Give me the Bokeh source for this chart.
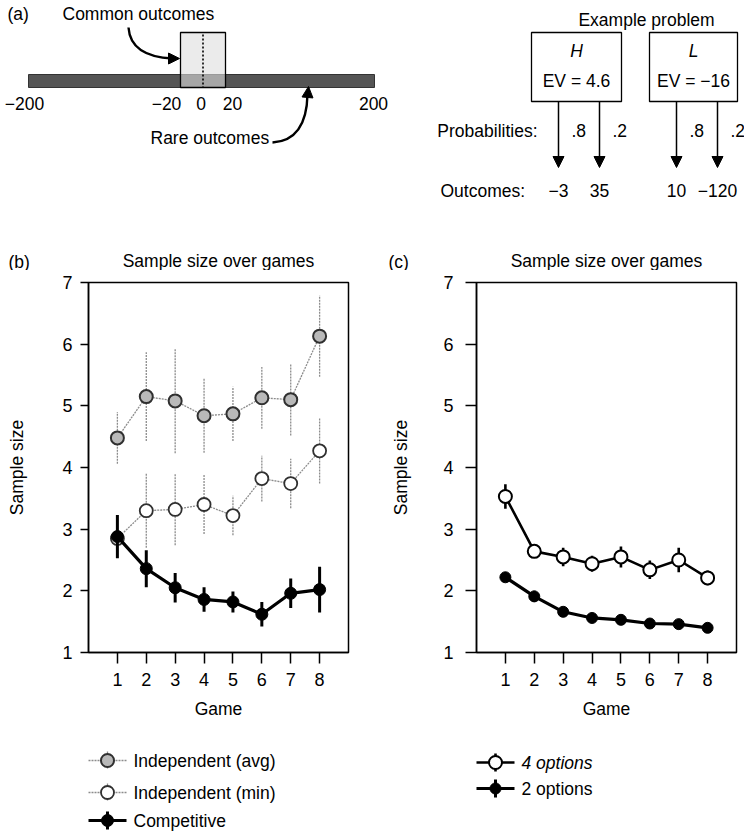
from bokeh.plotting import figure
from bokeh.models import Range1d, Arrow, NormalHead, FixedTicker, ColumnDataSource
from bokeh.layouts import column, row
from bokeh.core.properties import value
from bokeh.embed import file_html
from bokeh.resources import INLINE

FONT = "Liberation Sans"
FS = "17.5px"

# ---------------- data: panel (a) ----------------
outcome_range = [-200, 200]
range_labels = ["\u2212200", "200"]
common_range = [-20, 20]
common_values = [-20, 0, 20]
common_labels = ["\u221220", "0", "20"]
options = ["H", "L"]
option_ev = ["EV = 4.6", "EV = \u221216"]
option_probs = [[".8", ".2"], [".8", ".2"]]
option_outcomes = [["\u22123", "35"], ["10", "\u2212120"]]

# ---------------- data: panels (b), (c) ----------------
games = [1, 2, 3, 4, 5, 6, 7, 8]
y_ticks = [1, 2, 3, 4, 5, 6, 7]
indep_avg = [4.48, 5.15, 5.08, 4.84, 4.87, 5.13, 5.10, 6.13]
indep_avg_err = [0.42, 0.72, 0.85, 0.60, 0.44, 0.50, 0.58, 0.66]
indep_min = [2.85, 3.30, 3.32, 3.40, 3.22, 3.82, 3.74, 4.27]
indep_min_err = [0.25, 0.60, 0.58, 0.48, 0.32, 0.37, 0.40, 0.53]
competitive = [2.88, 2.36, 2.05, 1.86, 1.82, 1.62, 1.96, 2.02]
competitive_err = [0.35, 0.30, 0.24, 0.20, 0.17, 0.20, 0.24, 0.37]
opt4 = [3.53, 2.64, 2.55, 2.44, 2.55, 2.34, 2.50, 2.21]
opt4_err = [0.20, 0.10, 0.15, 0.13, 0.17, 0.15, 0.20, 0.12]
opt2 = [2.22, 1.91, 1.66, 1.56, 1.53, 1.47, 1.46, 1.40]
opt2_err = [0.07, 0.09, 0.05, 0.04, 0.04, 0.04, 0.04, 0.04]
legend_b = ["Independent (avg)", "Independent (min)", "Competitive"]
legend_c = ["4 options", "2 options"]


def blank(width, height):
    f = figure(width=width, height=height, x_range=Range1d(0, width), y_range=Range1d(height, 0),
               output_backend="svg", toolbar_location=None, x_axis_type=None, y_axis_type=None,
               min_border=0)
    f.outline_line_color = None
    return f


def txt(fig, xs, ys, texts, align="center", size=FS, style="normal", x_offset=None):
    if x_offset is None:
        x_offset = [0] * len(xs)
    src = ColumnDataSource(dict(x=xs, y=ys, t=texts, xo=x_offset))
    fig.text(x="x", y="y", text="t", source=src, text_align=align, text_baseline="middle",
             text_font=value(FONT), text_font_size=size, text_font_style=style,
             text_color="black", x_offset="xo")


# ---------------- panel (a): schematic ----------------
pa = blank(744, 205)

BAR_L, BAR_R, BAR_T, BAR_B = 28, 374, 74, 87
BOX_L, BOX_R, BOX_T = 180, 225, 32


def bar_x(v):
    return BAR_L + (v - outcome_range[0]) / (outcome_range[1] - outcome_range[0]) * (BAR_R - BAR_L)


def box_x(v):
    return BOX_L + (v - common_range[0]) / (common_range[1] - common_range[0]) * (BOX_R - BOX_L)


pa.quad(left=[bar_x(outcome_range[0])], right=[bar_x(outcome_range[1])], top=[BAR_T], bottom=[BAR_B],
        fill_color="#555555", line_color="#333333", line_width=1)
pa.quad(left=[box_x(common_range[0])], right=[box_x(common_range[1])], top=[BOX_T], bottom=[BAR_T],
        fill_color="#ebebeb", line_color=None)
pa.quad(left=[box_x(common_range[0])], right=[box_x(common_range[1])], top=[BAR_T], bottom=[BAR_B],
        fill_color="#a6a6a6", line_color=None)
pa.quad(left=[box_x(common_range[0])], right=[box_x(common_range[1])], top=[BOX_T], bottom=[BAR_B],
        fill_color=None, line_color="black", line_width=1.3)
pa.segment(x0=[box_x(0)], y0=[BOX_T + 2], x1=[box_x(0)], y1=[BAR_B], line_color="black",
           line_width=1.6, line_dash="2 2")

txt(pa, [bar_x(v) for v in outcome_range], [103, 103], range_labels, x_offset=[-4, -1])
txt(pa, [box_x(v) for v in common_values], [103] * 3, common_labels, x_offset=[-14, -2, 7])
txt(pa, [7], [13], ["(a)"], align="left")
txt(pa, [62], [13], ["Common outcomes"], align="left")
txt(pa, [150], [137], ["Rare outcomes"], align="left")

# curved arrows
pa.quadratic(x0=[128], y0=[27], x1=[172], y1=[58], cx=[130], cy=[56], line_color="black", line_width=2.4)
pa.add_layout(Arrow(end=NormalHead(size=11, fill_color="black", line_color="black"),
                    x_start=168, y_start=58, x_end=179, y_end=58, line_width=0))
pa.quadratic(x0=[272], y0=[142], x1=[307], y1=[94], cx=[306], cy=[140], line_color="black", line_width=2.4)
pa.add_layout(Arrow(end=NormalHead(size=11, fill_color="black", line_color="black"),
                    x_start=307, y_start=97, x_end=308, y_end=86, line_width=0))

# example problem
EX_LEFTS = [531, 649]
EX_WIDTHS = [90, 88]
EX_TOP, EX_BOT, ARROW_END = 32, 101, 167
ARROW_DX = [27, 68]
txt(pa, [646], [19], ["Example problem"])
for i, opt in enumerate(options):
    l = EX_LEFTS[i]
    r = l + EX_WIDTHS[i]
    c = (l + r) / 2
    pa.quad(left=[l], right=[r], top=[EX_TOP], bottom=[EX_BOT], fill_color="white",
            line_color="black", line_width=1.3)
    txt(pa, [c], [50], [opt], style="italic")
    txt(pa, [c], [80], [option_ev[i]])
    axs = [l + d for d in ARROW_DX]
    for axx in axs:
        pa.add_layout(Arrow(end=NormalHead(size=11, fill_color="black", line_color="black"),
                            x_start=axx, y_start=EX_BOT, x_end=axx, y_end=ARROW_END,
                            line_width=1.5, line_color="black"))
    txt(pa, [a + 13 for a in axs], [130, 130], option_probs[i], align="left")
    txt(pa, axs, [190, 190], option_outcomes[i])
txt(pa, [537], [130], ["Probabilities:"], align="right")
txt(pa, [440], [190], ["Outcomes:"], align="left")


# ---------------- panels (b), (c) ----------------
FRAME_W, FRAME_H = 260, 370


def header(letter, width, letter_x, left_border):
    h = blank(width, 65)
    txt(h, [letter_x], [56], [letter], align="left")
    txt(h, [left_border + FRAME_W / 2], [55], ["Sample size over games"])
    return h


def make_panel(width, left_border, ytick_len, ylabel_standoff, ytick_standoff):
    p = figure(frame_width=FRAME_W, frame_height=FRAME_H, x_range=Range1d(0, 9), y_range=Range1d(1, 7),
               output_backend="svg", toolbar_location=None,
               min_border_left=left_border, min_border_right=width - left_border - FRAME_W,
               min_border_top=12, min_border_bottom=80)
    p.grid.visible = False
    p.outline_line_color = "black"
    p.outline_line_width = 1.5
    p.xaxis.ticker = FixedTicker(ticks=games)
    p.yaxis.ticker = FixedTicker(ticks=y_ticks)
    for ax in (p.xaxis[0], p.yaxis[0]):
        ax.major_tick_in = 0
        ax.major_tick_line_width = 1.5
        ax.major_tick_line_color = "black"
        ax.axis_line_width = 1.5
        ax.axis_line_color = "black"
        ax.minor_tick_line_color = None
        ax.major_label_text_font = FONT
        ax.major_label_text_font_size = "18px"
        ax.major_label_text_color = "black"
        ax.axis_label_text_font = FONT
        ax.axis_label_text_font_size = FS
        ax.axis_label_text_font_style = "normal"
        ax.axis_label_text_color = "black"
    p.xaxis.major_tick_out = 11
    p.yaxis.major_tick_out = ytick_len
    p.xaxis.axis_label = "Game"
    p.xaxis.major_label_standoff = 9
    p.xaxis.axis_label_standoff = 10
    p.yaxis.axis_label = "Sample size"
    p.yaxis.major_label_standoff = ytick_standoff
    p.yaxis.axis_label_standoff = ylabel_standoff
    return p


def series(p, ys, errs, line_color, line_width, dash, fill, size, mline, mwidth, err_color, err_width):
    lo = [y - e for y, e in zip(ys, errs)]
    hi = [y + e for y, e in zip(ys, errs)]
    p.segment(x0=games, y0=lo, x1=games, y1=hi, line_color=err_color, line_width=err_width,
              line_dash=dash)
    p.line(games, ys, line_color=line_color, line_width=line_width, line_dash=dash)
    p.scatter(games, ys, marker="circle", size=size, fill_color=fill, line_color=mline,
              line_width=mwidth)
    return dict(line_color=line_color, line_width=line_width, line_dash=dash, fill_color=fill,
                size=size, mline=mline, mwidth=mwidth, err_color=err_color, err_width=err_width)


KEY_W, KEY_STANDOFF, KEY_TICK = 38, 7, 9


def draw_legend(f, x0, centers, labels, styles, font_styles):
    """Legend keys (line + error tick + marker) and labels, in the footer's pixel space."""
    xm = x0 + KEY_W / 2
    for yc, lab, st, fst in zip(centers, labels, styles, font_styles):
        f.segment(x0=[xm], y0=[yc - KEY_TICK], x1=[xm], y1=[yc + KEY_TICK], line_color=st["err_color"],
                  line_width=st["err_width"], line_dash=st["line_dash"])
        f.segment(x0=[x0], y0=[yc], x1=[x0 + KEY_W], y1=[yc], line_color=st["line_color"],
                  line_width=st["line_width"], line_dash=st["line_dash"])
        f.scatter(x=[xm], y=[yc], marker="circle", size=st["size"], fill_color=st["fill_color"],
                  line_color=st["mline"], line_width=st["mwidth"])
        txt(f, [x0 + KEY_W + KEY_STANDOFF], [yc], [lab], align="left", style=fst)


FOOT_H = 103

# panel (b)
W_B, LB_B = 370, 88
hb = header("(b)", W_B, 8, LB_B)
pb = make_panel(W_B, LB_B, 8, 32, 8)
s_avg = series(pb, indep_avg, indep_avg_err, "#8c8c8c", 1.3, "2 1", "#b9b9b9", 13, "#303030", 2.0,
               "#8c8c8c", 1.3)
s_min = series(pb, indep_min, indep_min_err, "#8c8c8c", 1.3, "2 1", "white", 13, "#303030", 1.8,
               "#8c8c8c", 1.3)
s_comp = series(pb, competitive, competitive_err, "black", 3.2, "solid", "black", 12, "black", 1,
                "black", 3)
fb = blank(W_B, FOOT_H)
draw_legend(fb, LB_B, [28, 60, 88], legend_b, [s_avg, s_min, s_comp], ["normal"] * 3)

# panel (c)
W_C, LB_C = 374, 106
hc = header("(c)", W_C, 18, LB_C)
pc = make_panel(W_C, LB_C, 11, 29, 12)
s_4 = series(pc, opt4, opt4_err, "black", 2.6, "solid", "white", 13, "black", 2.0, "black", 2.6)
s_2 = series(pc, opt2, opt2_err, "black", 3.2, "solid", "black", 11, "black", 1, "black", 3)
fc = blank(W_C, FOOT_H)
draw_legend(fc, LB_C, [30, 56], legend_c, [s_4, s_2], ["italic", "normal"])

layout = column(pa,
                row(hb, hc, spacing=0),
                row(pb, pc, spacing=0),
                row(fb, fc, spacing=0),
                spacing=0)
open("out.html", "w").write(file_html(layout, INLINE))
